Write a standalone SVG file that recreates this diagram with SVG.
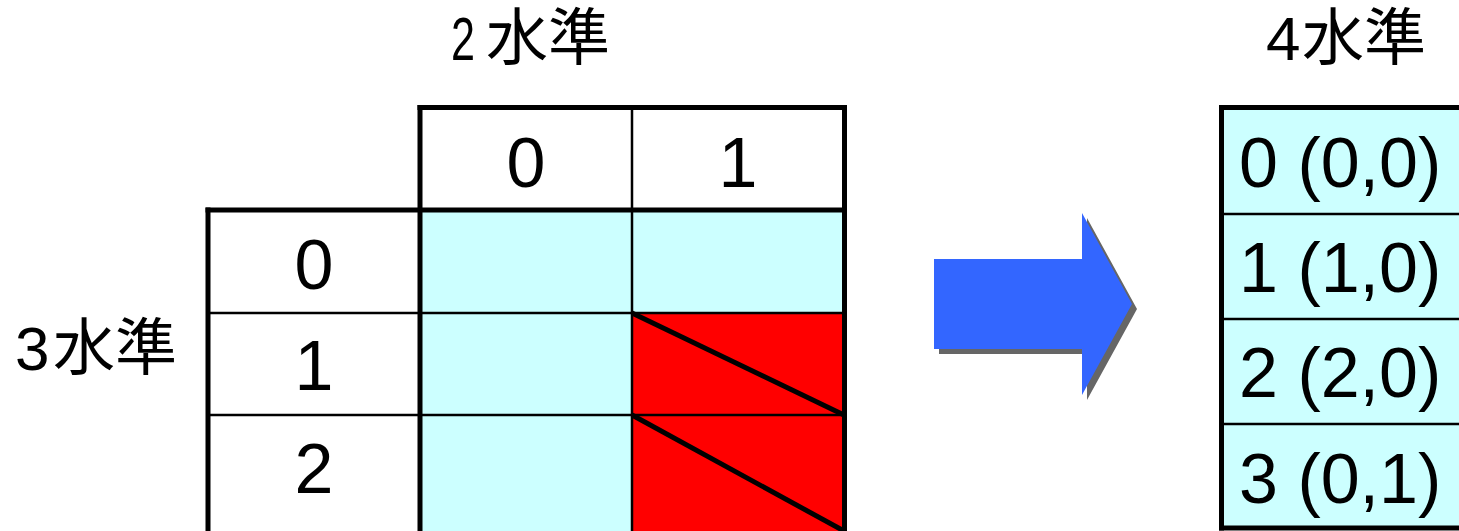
<svg xmlns="http://www.w3.org/2000/svg" width="1459" height="531" viewBox="0 0 1459 531">
  <defs>
    <style>
      .num { font-family: "Liberation Sans", Arial, sans-serif; font-size: 70px; fill: #000; }
      .cjk { font-family: "Noto Sans CJK JP", "Noto Sans CJK SC", sans-serif; fill: #000; }
      .lat { font-family: "Liberation Sans", Arial, sans-serif; fill: #000; }
      .cyan { fill: #CCFFFF; }
      .red { fill: #FF0000; }
      .thick { stroke: #000; stroke-width: 5; fill: none; }
      .thin { stroke: #000; stroke-width: 2.5; fill: none; }
      .diag { stroke: #000; stroke-width: 5; fill: none; }
    </style>
  </defs>
  <rect width="1459" height="531" fill="#FFFFFF"/>

  <!-- Titles -->
  <g id="title-2level">
    <text y="60"><tspan class="lat" x="451" font-size="62" textLength="24" lengthAdjust="spacingAndGlyphs">2</tspan><tspan class="cjk" x="486" font-size="62">水準</tspan></text>
  </g>
  <g id="title-3level">
    <text y="370"><tspan class="lat" x="15" font-size="62">3</tspan><tspan class="cjk" x="53" font-size="62">水準</tspan></text>
  </g>
  <g id="title-4level">
    <text y="60"><tspan class="lat" x="1266" font-size="62">4</tspan><tspan class="cjk" x="1302" font-size="62">水準</tspan></text>
  </g>

  <!-- Left table: cell fills -->
  <g id="table-cells">
    <rect x="420" y="210" width="212" height="103" class="cyan"/>
    <rect x="632" y="210" width="213" height="103" class="cyan"/>
    <rect x="420" y="313" width="212" height="102" class="cyan"/>
    <rect x="420" y="415" width="212" height="116" class="cyan"/>
    <rect x="632" y="313" width="213" height="102" class="red"/>
    <rect x="632" y="415" width="213" height="116" class="red"/>
    <line x1="632" y1="313" x2="844" y2="415" class="diag"/>
    <line x1="632" y1="415" x2="844" y2="531" class="diag"/>
  </g>

  <!-- Left table: grid lines -->
  <g id="table-grid">
    <line x1="208" y1="313" x2="845" y2="313" class="thin"/>
    <line x1="208" y1="415" x2="845" y2="415" class="thin"/>
    <line x1="632" y1="107.5" x2="632" y2="531" class="thin"/>
    <line x1="417.5" y1="107.5" x2="847" y2="107.5" class="thick"/>
    <line x1="420" y1="105" x2="420" y2="531" class="thick"/>
    <line x1="844.5" y1="105" x2="844.5" y2="531" class="thick"/>
    <line x1="205.5" y1="210" x2="847" y2="210" class="thick"/>
    <line x1="208" y1="207.5" x2="208" y2="531" class="thick"/>
  </g>

  <!-- Left table: labels -->
  <g id="table-labels">
    <text x="526" y="187" class="num" text-anchor="middle">0</text>
    <text x="738" y="187" class="num" text-anchor="middle">1</text>
    <text x="314" y="289" class="num" text-anchor="middle">0</text>
    <text x="314" y="390" class="num" text-anchor="middle">1</text>
    <text x="314" y="493" class="num" text-anchor="middle">2</text>
  </g>

  <!-- Arrow -->
  <g id="arrow">
    <path d="M939,264 L1087,264 L1087,218 L1137,309 L1087,400 L1087,354 L939,354 Z" fill="#666666"/>
    <path d="M934,259 L1082,259 L1082,213 L1132,304 L1082,395 L1082,349 L934,349 Z" fill="#3366FF"/>
  </g>

  <!-- Right table -->
  <g id="result-table">
    <rect x="1221.5" y="107.5" width="250" height="420.5" class="cyan"/>
    <line x1="1221.5" y1="214" x2="1470" y2="214" class="thin"/>
    <line x1="1221.5" y1="319" x2="1470" y2="319" class="thin"/>
    <line x1="1221.5" y1="424" x2="1470" y2="424" class="thin"/>
    <line x1="1219" y1="107.5" x2="1470" y2="107.5" class="thick"/>
    <line x1="1219" y1="528" x2="1470" y2="528" class="thick"/>
    <line x1="1221.5" y1="105" x2="1221.5" y2="530.5" class="thick"/>
    <text x="1239" y="187" class="num">0 (0,0)</text>
    <text x="1239" y="292" class="num">1 (1,0)</text>
    <text x="1239" y="397" class="num">2 (2,0)</text>
    <text x="1239" y="503" class="num">3 (0,1)</text>
  </g>
</svg>
